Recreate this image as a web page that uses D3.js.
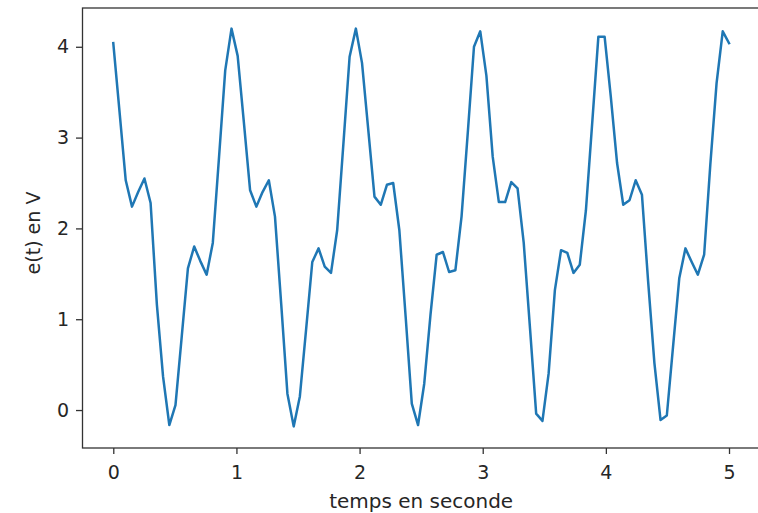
<!DOCTYPE html>
<html>
<head>
<meta charset="utf-8">
<script src="https://cdn.jsdelivr.net/npm/d3@7"></script>
<style>
  body { margin: 0; background: #fff; }
  svg { display: block; font-family: "DejaVu Sans", sans-serif; }
</style>
</head>
<body>
<svg></svg>
<script>
// sample times (s), 100 points from 0 to 5
const temps = [
  0, 0.051, 0.101, 0.152, 0.202, 0.253, 0.303, 0.354, 0.404, 0.455,
  0.505, 0.556, 0.606, 0.657, 0.707, 0.758, 0.808, 0.859, 0.909, 0.96,
  1.01, 1.061, 1.111, 1.162, 1.212, 1.263, 1.313, 1.364, 1.414, 1.465,
  1.515, 1.566, 1.616, 1.667, 1.717, 1.768, 1.818, 1.869, 1.919, 1.97,
  2.02, 2.071, 2.121, 2.172, 2.222, 2.273, 2.323, 2.374, 2.424, 2.475,
  2.525, 2.576, 2.626, 2.677, 2.727, 2.778, 2.828, 2.879, 2.929, 2.98,
  3.03, 3.081, 3.131, 3.182, 3.232, 3.283, 3.333, 3.384, 3.434, 3.485,
  3.535, 3.586, 3.636, 3.687, 3.737, 3.788, 3.838, 3.889, 3.939, 3.99,
  4.04, 4.091, 4.141, 4.192, 4.242, 4.293, 4.343, 4.394, 4.444, 4.495,
  4.545, 4.596, 4.646, 4.697, 4.747, 4.798, 4.848, 4.899, 4.949, 5.0,
];

// e(t) in volts
const tension = [
  4.04, 3.28, 2.53, 2.24, 2.4, 2.55, 2.28, 1.16, 0.37, -0.165,
  0.055, 0.81, 1.56, 1.8, 1.64, 1.49, 1.84, 2.79, 3.74, 4.2,
  3.9, 3.16, 2.42, 2.24, 2.4, 2.53, 2.13, 1.16, 0.18, -0.18,
  0.15, 0.89, 1.63, 1.78, 1.58, 1.51, 1.98, 2.94, 3.89, 4.2,
  3.82, 3.08, 2.35, 2.26, 2.48, 2.5, 1.98, 1.03, 0.07, -0.165,
  0.29, 1.05, 1.71, 1.74, 1.52, 1.54, 2.13, 3.06, 4.0, 4.17,
  3.68, 2.79, 2.29, 2.29, 2.51, 2.44, 1.84, 0.9, -0.04, -0.12,
  0.4, 1.32, 1.76, 1.73, 1.51, 1.6, 2.2, 3.16, 4.11, 4.11,
  3.45, 2.72, 2.26, 2.31, 2.53, 2.37, 1.42, 0.52, -0.11, -0.06,
  0.69, 1.45, 1.78, 1.63, 1.49, 1.71, 2.7, 3.6, 4.17, 4.04,
];

const xTicks = [0, 1, 2, 3, 4, 5];
const yTicks = [0, 1, 2, 3, 4];

const width = 758;
const height = 513;
const plotLeft = 82.5;
const plotRight = 759.8;
const plotTop = 8;
const plotBottom = 448;
const svg = d3.select("svg");
let xScale;
let yScale;

const drawCanvas = () => {
  svg.attr("width", width).attr("height", height);
};

const generateScales = () => {
  // matplotlib style 5% margins around the data
  xScale = d3.scaleLinear().domain([-0.25, 5.25]).range([plotLeft, plotRight]);
  yScale = d3.scaleLinear().domain([-0.418, 4.427]).range([plotBottom, plotTop]);
};

const drawLine = () => {
  const line = d3
    .line()
    .x((d, i) => xScale(temps[i]))
    .y((d) => yScale(d));

  svg
    .append("path")
    .datum(tension)
    .attr("d", line)
    .attr("fill", "none")
    .attr("stroke", "#1f77b4")
    .attr("stroke-width", 2.5)
    .attr("stroke-linejoin", "round")
    .attr("stroke-linecap", "square");
};

const generateAxis = () => {
  const xAxis = d3
    .axisBottom(xScale)
    .tickValues(xTicks)
    .tickFormat(d3.format("d"))
    .tickSizeInner(6)
    .tickSizeOuter(0)
    .tickPadding(12);
  const yAxis = d3
    .axisLeft(yScale)
    .tickValues(yTicks)
    .tickFormat(d3.format("d"))
    .tickSizeInner(6.5)
    .tickSizeOuter(0)
    .tickPadding(7);

  const gx = svg
    .append("g")
    .attr("transform", "translate(0," + plotBottom + ")")
    .call(xAxis);
  const gy = svg
    .append("g")
    .attr("transform", "translate(" + plotLeft + ",0)")
    .call(yAxis);

  [gx, gy].forEach((g) => {
    g.select(".domain").remove();
    g.selectAll(".tick line").attr("stroke", "#333").attr("stroke-width", 1.3);
    g.selectAll(".tick text")
      .attr("fill", "#262626")
      .style("font-size", "19px")
      .style("font-family", "DejaVu Sans");
  });

  // spines
  svg
    .append("rect")
    .attr("x", plotLeft)
    .attr("y", plotTop)
    .attr("width", plotRight - plotLeft)
    .attr("height", plotBottom - plotTop)
    .attr("fill", "none")
    .attr("stroke", "#333")
    .attr("stroke-width", 1.3);

  svg
    .append("text")
    .attr("x", (plotLeft + plotRight) / 2)
    .attr("y", 508)
    .attr("text-anchor", "middle")
    .attr("textLength", 184)
    .attr("lengthAdjust", "spacingAndGlyphs")
    .attr("fill", "#262626")
    .style("font-size", "19px")
    .text("temps en seconde");

  svg
    .append("text")
    .attr("transform", "translate(40,233) rotate(-90)")
    .attr("text-anchor", "middle")
    .attr("fill", "#262626")
    .style("font-size", "19px")
    .text("e(t) en V");
};

drawCanvas();
generateScales();
drawLine();
generateAxis();
</script>
</body>
</html>
